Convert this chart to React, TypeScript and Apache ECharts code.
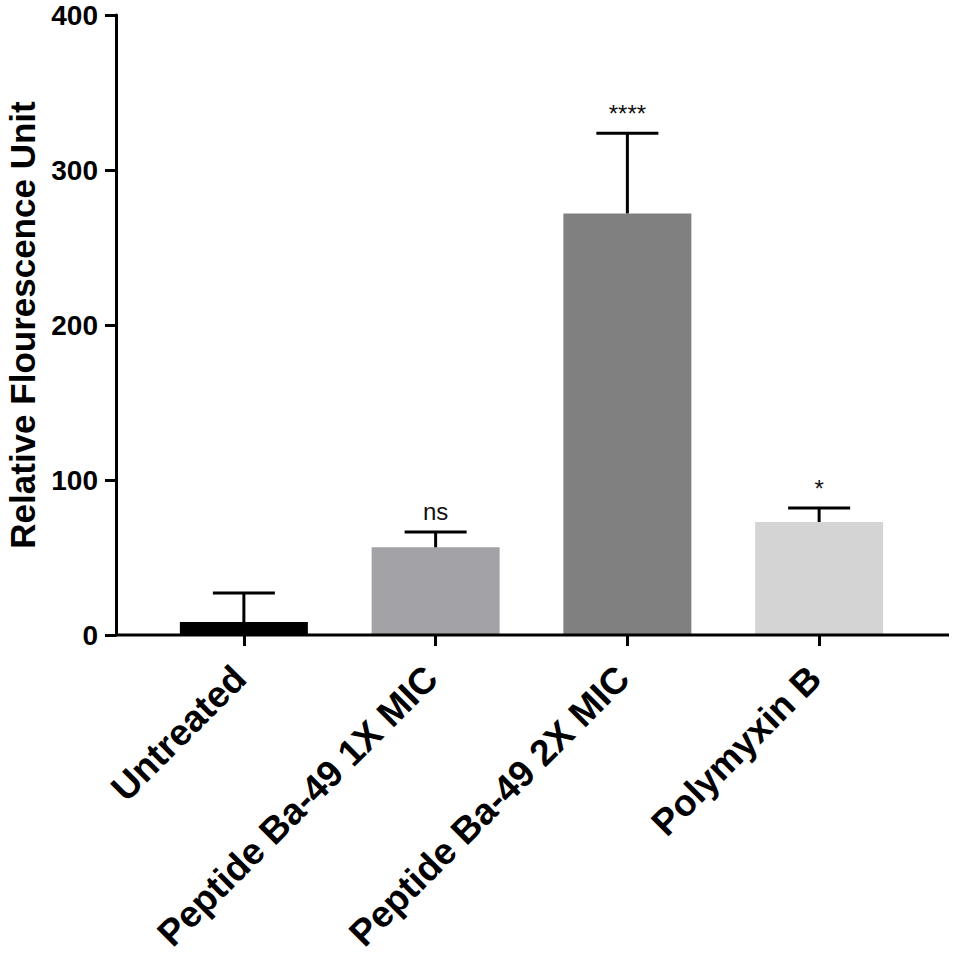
import React, { useEffect, useRef } from "react";
import * as echarts from "echarts";

const categories = ["Untreated", "Peptide Ba-49 1X MIC", "Peptide Ba-49 2X MIC", "Polymyxin B"];
const means = [8.4, 56.6, 272, 72.9];
const upperErrors = [27.1, 66.5, 323.7, 81.9];
const significance = ["", "ns", "****", "*"];
const barColors = ["#000000", "#a3a2a7", "#808080", "#d4d4d4"];
const yTicks = [0, 100, 200, 300, 400];

const FONT = "'Liberation Sans', Arial, Helvetica, sans-serif";

export default function App() {
  const ref = useRef<HTMLDivElement>(null);
  useEffect(() => {
    if (!ref.current) return;
    const chart = echarts.init(ref.current, null, { renderer: "svg" });
    const option: any = {
      animation: false,
      backgroundColor: "#ffffff",
      grid: { left: 148, right: 40, top: 15, bottom: 324, containLabel: false, outerBoundsMode: "none" },
      xAxis: {
        type: "category",
        data: categories,
        axisLine: { show: false },
        axisTick: { show: true, alignWithLabel: true, length: 11, lineStyle: { color: "#000", width: 3 } },
        axisLabel: {
          rotate: 45,
          interval: 0,
          margin: 33,
          padding: [0, 6, 0, 0],
          color: "#000",
          fontWeight: "bold",
          fontSize: 37,
          fontFamily: FONT,
        },
      },
      yAxis: {
        type: "value",
        min: yTicks[0],
        max: yTicks[yTicks.length - 1],
        interval: 100,
        offset: 32,
        name: "Relative Flourescence Unit",
        nameLocation: "middle",
        nameGap: 76,
        nameTextStyle: { color: "#000", fontWeight: "bold", fontSize: 35, fontFamily: FONT, lineHeight: 34 },
        axisLine: { show: true, lineStyle: { color: "#000", width: 3 } },
        axisTick: { show: true, length: 11, lineStyle: { color: "#000", width: 3 } },
        axisLabel: { color: "#000", fontWeight: "bold", fontSize: 28, fontFamily: FONT, margin: 18 },
        splitLine: { show: false },
      },
      series: [
        {
          type: "bar",
          barWidth: 128,
          data: means.map((v, i) => ({ value: v, itemStyle: { color: barColors[i] } })),
          z: 2,
        },
        {
          type: "custom",
          z: 3,
          data: means.map((m, i) => [i, m, upperErrors[i]]),
          renderItem: (params: any, api: any) => {
            const i = api.value(0);
            const lo = api.coord([i, api.value(1)]);
            const hi = api.coord([i, api.value(2)]);
            const half = 31;
            const children: any[] = [
              { type: "line", shape: { x1: lo[0], y1: lo[1], x2: hi[0], y2: hi[1] }, style: { stroke: "#000", lineWidth: 3 } },
              { type: "line", shape: { x1: hi[0] - half, y1: hi[1], x2: hi[0] + half, y2: hi[1] }, style: { stroke: "#000", lineWidth: 3 } },
            ];
            const s = significance[params.dataIndex];
            if (s) {
              children.push({
                type: "text",
                x: hi[0],
                y: hi[1] - 8,
                style: {
                  text: s,
                  fill: "#111",
                  fontSize: 24,
                  fontFamily: FONT,
                  align: "center",
                  verticalAlign: "bottom",
                },
              });
            }
            return { type: "group", children };
          },
        },
      ],
    };
    chart.setOption(option);
    const y0 = chart.convertToPixel({ yAxisIndex: 0 }, 0) as number;
    chart.setOption({
      graphic: [
        {
          type: "line",
          shape: { x1: 115, y1: y0, x2: 949, y2: y0 },
          style: { stroke: "#000", lineWidth: 3 },
          z: 10,
        },
      ],
    });
    return () => chart.dispose();
  }, []);
  return <div ref={ref} style={{ position: "fixed", left: 0, top: 0, width: 955, height: 959 }} />;
}
